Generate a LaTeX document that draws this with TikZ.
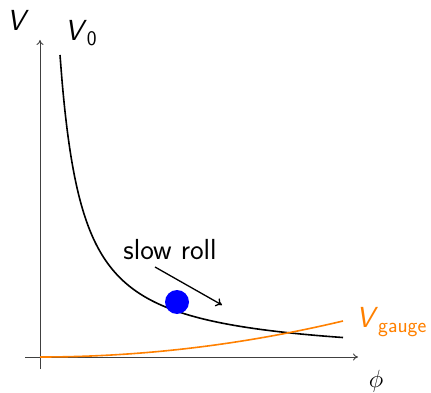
\documentclass[tikz,border=0pt]{standalone}
\usetikzlibrary{arrows.meta}
\begin{document}
\begin{tikzpicture}[x=1pt,y=-1pt,
  axis/.style={draw=black!75,line width=0.9pt,-{To[length=5pt,width=7pt]}},
  lbl/.style={font=\fontsize{29}{34}\selectfont\sffamily,inner sep=0pt},
  curveV/.style={line width=1.6pt,black},
  curveG/.style={line width=1.6pt,orange}]
\useasboundingbox (0,0) rectangle (431,393);
\coordinate (o) at (40,357);
\coordinate (xs) at (25,357);
\coordinate (xe) at (358,357);
\coordinate (ys) at (40,369);
\coordinate (ye) at (40,40);
\draw[axis] (xs) -- (xe);
\draw[axis] (ys) -- (ye);
\draw[curveV] plot[domain=20:303,samples=120,smooth] ({40+\x},{357-(6699/(\x+2)-2.5)});
\draw[curveG] plot[domain=0:303,samples=60,smooth] ({40+\x},{357-36*(\x/303)^2});
\node[lbl] (V) at (18,20) {\textit{V}};
\node[lbl] (V0) at (81,33) {\textit{V}$_{\mathsf{0}}$};
\node[lbl,orange,anchor=base west] (Vg) at (356,327) {\textit{V}\raisebox{-5pt}{\fontsize{21}{23}\selectfont gauge}};
\node[lbl] (phi) at (376,381) {$\phi$};
\node[lbl] (sr) at (170,250) {slow roll};
\node[circle,fill=blue,minimum size=24pt,inner sep=0pt] (ball) at (177,302) {};
\coordinate (a1) at (155,267);
\coordinate (a2) at (222,305);
\draw[line width=1.3pt,-{To[length=6pt,width=9pt]}] (a1) -- (a2);
\end{tikzpicture}
\end{document}
